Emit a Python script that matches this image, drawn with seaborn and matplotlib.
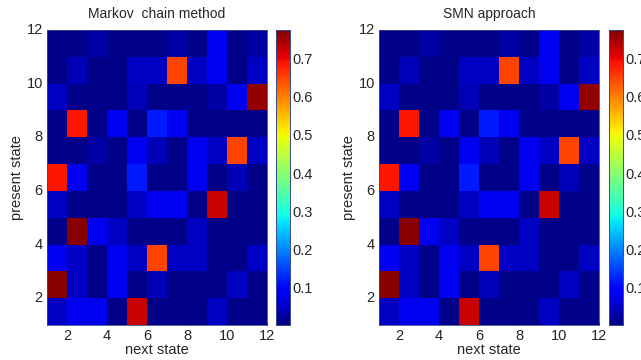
import numpy as np
import pandas as pd
import seaborn as sns
import matplotlib
matplotlib.use("Agg")
import matplotlib.pyplot as plt

# --- Datos (filas: estado presente 1..11, columnas: estado siguiente 1..11) ---
states = list(range(1, 12))
tick_labels = [2, 4, 6, 8, 10, 12]
cbar_ticks = [0.1, 0.2, 0.3, 0.4, 0.5, 0.6, 0.7]

markov = [
    [0.05, 0.08, 0.08, 0.01, 0.725, 0.01, 0.01, 0.01, 0.05, 0.01, 0.01],  # estado 1
    [0.765, 0.05, 0.01, 0.08, 0.01, 0.04, 0.01, 0.01, 0.01, 0.05, 0.01],  # estado 2
    [0.08, 0.05, 0.01, 0.08, 0.05, 0.65, 0.05, 0.05, 0.01, 0.01, 0.05],   # estado 3
    [0.01, 0.765, 0.08, 0.05, 0.01, 0.01, 0.01, 0.05, 0.01, 0.01, 0.01],  # estado 4
    [0.05, 0.01, 0.01, 0.01, 0.05, 0.08, 0.08, 0.01, 0.725, 0.01, 0.01],  # estado 5
    [0.685, 0.08, 0.01, 0.01, 0.12, 0.01, 0.01, 0.08, 0.01, 0.04, 0.01],  # estado 6
    [0.01, 0.01, 0.03, 0.01, 0.08, 0.04, 0.01, 0.08, 0.05, 0.65, 0.05],   # estado 7
    [0.01, 0.685, 0.01, 0.08, 0.01, 0.12, 0.08, 0.01, 0.01, 0.01, 0.01],  # estado 8
    [0.05, 0.01, 0.01, 0.01, 0.04, 0.01, 0.01, 0.01, 0.03, 0.08, 0.76],   # estado 9
    [0.01, 0.04, 0.01, 0.01, 0.05, 0.05, 0.65, 0.05, 0.08, 0.01, 0.05],   # estado 10
    [0.01, 0.01, 0.03, 0.01, 0.01, 0.01, 0.03, 0.01, 0.08, 0.01, 0.03],   # estado 11
]

smn = [
    [0.05, 0.08, 0.08, 0.01, 0.725, 0.01, 0.01, 0.01, 0.05, 0.01, 0.01],
    [0.765, 0.05, 0.01, 0.08, 0.01, 0.04, 0.01, 0.01, 0.01, 0.05, 0.01],
    [0.08, 0.05, 0.01, 0.08, 0.05, 0.65, 0.05, 0.05, 0.01, 0.01, 0.05],
    [0.01, 0.765, 0.08, 0.05, 0.01, 0.01, 0.01, 0.05, 0.01, 0.01, 0.01],
    [0.05, 0.01, 0.01, 0.01, 0.05, 0.08, 0.08, 0.01, 0.725, 0.01, 0.01],
    [0.685, 0.08, 0.01, 0.01, 0.12, 0.01, 0.01, 0.08, 0.01, 0.04, 0.01],
    [0.01, 0.01, 0.03, 0.01, 0.08, 0.04, 0.01, 0.08, 0.05, 0.65, 0.05],
    [0.01, 0.685, 0.01, 0.08, 0.01, 0.12, 0.08, 0.01, 0.01, 0.01, 0.01],
    [0.05, 0.01, 0.01, 0.01, 0.04, 0.01, 0.01, 0.01, 0.03, 0.08, 0.76],
    [0.01, 0.04, 0.01, 0.01, 0.05, 0.05, 0.65, 0.05, 0.08, 0.01, 0.05],
    [0.01, 0.01, 0.03, 0.01, 0.01, 0.01, 0.03, 0.01, 0.08, 0.01, 0.03],
]

titles = ["Markov  chain method", "SMN approach"]

sns.set_style("white")
plt.rcParams["font.family"] = ["Liberation Sans", "DejaVu Sans"]

fig = plt.figure(figsize=(6.41, 3.6), dpi=100)
ax_pos = [[0.0733, 0.0972, 0.3432, 0.8194], [0.5913, 0.0972, 0.3432, 0.8194]]
cb_pos = [[0.4306, 0.0972, 0.0218, 0.8194], [0.9500, 0.0972, 0.0218, 0.8194]]

for datos, titulo, apos, cpos in zip([markov, smn], titles, ax_pos, cb_pos):
    df = pd.DataFrame(datos, index=states, columns=states)
    ax = fig.add_axes(apos)
    cax = fig.add_axes(cpos)
    sns.heatmap(df, ax=ax, cbar_ax=cax, cmap="jet", vmin=0.003, vmax=0.774,
                cbar_kws={"ticks": cbar_ticks})
    ax.invert_yaxis()
    pos = [t - 1 for t in tick_labels]
    ax.set_xticks(pos)
    ax.set_xticklabels(tick_labels, rotation=0)
    ax.set_yticks(pos)
    ax.set_yticklabels(tick_labels, rotation=0)
    ax.tick_params(direction="in", length=2, labelsize=10.5, pad=3,
                   top=False, right=False, bottom=True, left=True)
    for sp in ax.spines.values():
        sp.set_visible(True)
        sp.set_color("#3a4a8a")
        sp.set_linewidth(0.6)
    ax.set_xlabel("next state", fontsize=10.5, labelpad=0)
    ax.set_ylabel("present state", fontsize=10.5, labelpad=2)
    ax.set_title(titulo, fontsize=10, pad=9)
    cax.tick_params(direction="in", length=2, labelsize=10.5, pad=2)
    cax.set_yticklabels([f"{t:.1f}" for t in cbar_ticks])
    for sp in cax.spines.values():
        sp.set_visible(True)
        sp.set_color("#3a4a8a")
        sp.set_linewidth(0.6)

plt.savefig("out.png", dpi=100)
plt.close()
